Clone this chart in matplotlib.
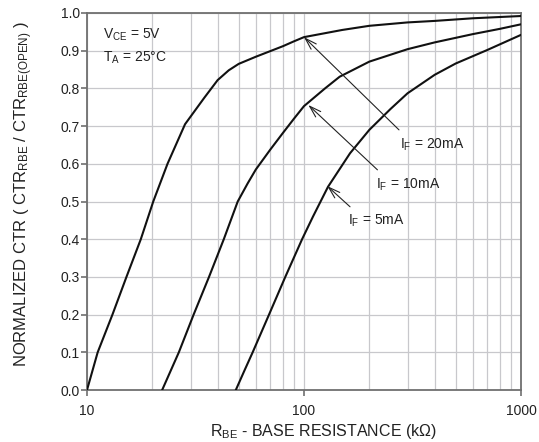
import matplotlib
matplotlib.use("Agg")
import matplotlib.pyplot as plt
from matplotlib.ticker import FixedLocator, NullFormatter, LogLocator

plt.rcParams['font.family'] = ['Liberation Sans', 'DejaVu Sans']
plt.rcParams['mathtext.fontset'] = 'custom'
plt.rcParams['mathtext.rm'] = 'Liberation Sans'
plt.rcParams['mathtext.it'] = 'Liberation Sans'
plt.rcParams['mathtext.default'] = 'regular'

# curve data (R in kOhm, normalized CTR)
r_20 = [10, 11.2, 13.1, 15.2, 17.7, 20.2, 23.5, 28.3, 34.7, 40, 45, 50,
        60, 70, 80, 90, 100, 150, 200, 300, 400, 600, 1000]
ctr_20 = [0, 0.1, 0.2, 0.3, 0.4, 0.5, 0.6, 0.705, 0.775, 0.822, 0.848, 0.865,
          0.884, 0.899, 0.912, 0.925, 0.936, 0.955, 0.966, 0.975, 0.979, 0.986, 0.992]

r_10 = [22.2, 26.5, 31, 36.5, 42.7, 49.5, 55, 60, 70, 80, 90, 100, 125, 146,
        200, 300, 400, 600, 800, 1000]
ctr_10 = [0, 0.1, 0.2, 0.3, 0.4, 0.5, 0.548, 0.585, 0.638, 0.682, 0.72, 0.753, 0.80, 0.831,
          0.871, 0.904, 0.922, 0.944, 0.958, 0.970]

r_5 = [48.5, 53, 58, 69, 82, 98, 110, 129, 163, 200, 250, 300, 400, 500,
       700, 1000]
ctr_5 = [0, 0.05, 0.1, 0.2, 0.3, 0.4, 0.46, 0.539, 0.628, 0.69, 0.745, 0.787, 0.836, 0.866,
         0.902, 0.942]

# labels: (text, arrow tip, arrow tail, text baseline start)
labels = ['$I_F$ = 20mA', '$I_F$ = 10mA', '$I_F$ = 5mA']
tips = [(100, 0.936), (104.7, 0.756), (128, 0.541)]
tails = [(274, 0.69), (218, 0.584), (163, 0.486)]
label_pos = [(277, 0.641), (215, 0.535), (159, 0.44)]

fig = plt.figure(figsize=(5.39, 4.42), dpi=100)
ax = fig.add_axes([0.1614, 0.1176, 0.8052, 0.853])

ax.set_xscale('log')
ax.set_xlim(10, 1000)
ax.set_ylim(0, 1.0)

ax.plot(r_20, ctr_20, color='#111111', lw=1.5, zorder=3)
ax.plot(r_10, ctr_10, color='#111111', lw=1.5, zorder=3)
ax.plot(r_5, ctr_5, color='#111111', lw=1.5, zorder=3)

for txt, tip, tail, pos in zip(labels, tips, tails, label_pos):
    ax.annotate('', xy=tip, xytext=tail,
                arrowprops=dict(arrowstyle='->,head_length=0.7,head_width=0.22',
                                color='#222222', lw=0.8,
                                shrinkA=0, shrinkB=0, mutation_scale=12))
    ax.text(pos[0], pos[1], txt, fontsize=10, va='baseline', ha='left', color='#222222')

ax.text(11.89, 0.933, '$V_{CE}$ = 5V', fontsize=10, va='baseline', color='#222222')
ax.text(11.89, 0.871, '$T_A$ = 25°C', fontsize=10, va='baseline', color='#222222')

# grid
ax.xaxis.set_major_locator(FixedLocator([10, 100, 1000]))
ax.xaxis.set_minor_locator(LogLocator(base=10, subs=range(2, 10)))
ax.xaxis.set_minor_formatter(NullFormatter())
ax.set_xticklabels(['10', '100', '1000'])
ax.set_yticks([i / 10 for i in range(11)])
ax.set_yticklabels(['%.1f' % (i / 10) for i in range(11)])
ax.grid(True, which='both', axis='x', color='#c8c8cc', lw=0.9)
ax.grid(True, which='major', axis='y', color='#c8c8cc', lw=0.9)
ax.set_axisbelow(True)

for s in ax.spines.values():
    s.set_color('#707070')
    s.set_linewidth(1.3)
ax.tick_params(axis='both', which='major', length=4, width=1.2, color='#707070',
               labelsize=10, labelcolor='#222222')
ax.tick_params(axis='x', which='minor', length=0)
ax.tick_params(axis='x', which='major', pad=6)
ax.tick_params(axis='y', which='major', pad=1)

fig.text(323 / 539, 1 - 436 / 442, '$R_{BE}$ - BASE RESISTANCE (k$\\Omega$)',
         fontsize=11.5, color='#222222', ha='center', va='baseline')
fig.text(27 / 539, 1 - 194.5 / 442,
         'NORMALIZED CTR ( CTR$_{RBE}$ / CTR$_{RBE(OPEN)}$ )',
         fontsize=12, color='#222222', ha='center', va='baseline',
         rotation=90, rotation_mode='anchor')

fig.savefig('out.png', dpi=100)
